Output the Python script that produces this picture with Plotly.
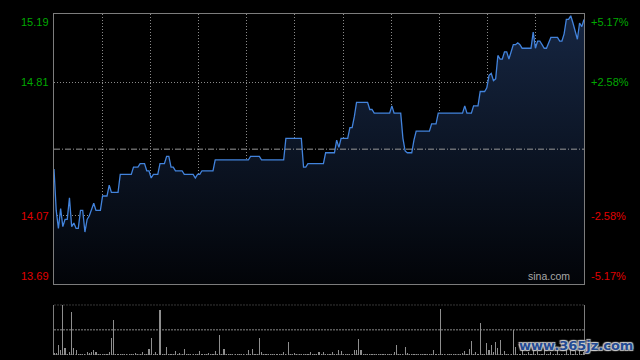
import plotly.graph_objects as go

# ---- data ----
prev_close = 14.44
price_ticks = [15.19, 14.81, 14.07, 13.69]
pct_ticks = ["+5.17%", "+2.58%", "-2.58%", "-5.17%"]

prices = [
    14.33, 14.10, 14.00, 14.11, 14.01, 14.05, 14.05, 14.17, 14.01, 14.03,
    14.00, 14.00, 14.10, 14.10, 13.98, 14.05, 14.07, 14.10, 14.14, 14.10,
    14.10, 14.10, 14.18, 14.18, 14.18, 14.24, 14.20, 14.20, 14.20, 14.20,
    14.30, 14.30, 14.30, 14.30, 14.30, 14.30, 14.34, 14.34, 14.34, 14.36,
    14.36, 14.36, 14.32, 14.32, 14.28, 14.30, 14.30, 14.30, 14.36, 14.36,
    14.36, 14.40, 14.40, 14.34, 14.34, 14.32, 14.32, 14.32, 14.32, 14.30,
    14.30, 14.30, 14.30, 14.30, 14.28, 14.30, 14.30, 14.32, 14.32, 14.32,
    14.32, 14.32, 14.32, 14.38, 14.38, 14.38, 14.38, 14.38, 14.38, 14.38,
    14.38, 14.38, 14.38, 14.38, 14.38, 14.38, 14.38, 14.38, 14.38, 14.40,
    14.40, 14.40, 14.40, 14.40, 14.38, 14.38, 14.38, 14.38, 14.38, 14.38,
    14.38, 14.38, 14.38, 14.38, 14.38, 14.50, 14.50, 14.50, 14.50, 14.50,
    14.50, 14.50, 14.50, 14.34, 14.34, 14.36, 14.36, 14.36, 14.36, 14.36,
    14.36, 14.36, 14.36, 14.42, 14.42, 14.42, 14.42, 14.42, 14.49, 14.45,
    14.50, 14.50, 14.50, 14.50, 14.56, 14.56, 14.62, 14.70, 14.70, 14.70,
    14.70, 14.70, 14.70, 14.66, 14.66, 14.64, 14.64, 14.64, 14.64, 14.64,
    14.64, 14.64, 14.64, 14.68, 14.64, 14.64, 14.64, 14.64, 14.50, 14.43,
    14.42, 14.42, 14.42, 14.49, 14.54, 14.54, 14.54, 14.54, 14.54, 14.54,
    14.54, 14.58, 14.58, 14.58, 14.64, 14.64, 14.64, 14.64, 14.64, 14.64,
    14.64, 14.64, 14.64, 14.64, 14.64, 14.64, 14.68, 14.64, 14.64, 14.64,
    14.68, 14.68, 14.68, 14.76, 14.76, 14.76, 14.78, 14.85, 14.86, 14.82,
    14.83, 14.96, 14.94, 14.94, 14.98, 14.98, 14.94, 14.98, 15.02, 15.02,
    15.03, 15.02, 15.00, 15.00, 15.00, 15.00, 15.00, 15.09, 15.00, 15.04,
    15.04, 15.02, 15.00, 15.00, 15.03, 15.06, 15.06, 15.06, 15.06, 15.04,
    15.04, 15.08, 15.16, 15.16, 15.18, 15.14, 15.10, 15.05, 15.14, 15.12,
    15.16,
]

volumes = [
    3, 4, 19, 9, 100, 13, 2, 5, 85, 13, 9, 2, 2, 1, 2, 5, 3, 5, 9, 5,
    2, 1, 2, 1, 2, 5, 33, 69, 2, 1, 2, 1, 2, 1, 2, 1, 2, 3, 1, 2,
    5, 1, 2, 11, 33, 2, 5, 1, 89, 2, 2, 15, 1, 2, 1, 7, 2, 3, 1, 11,
    2, 1, 2, 1, 2, 2, 7, 1, 2, 1, 3, 1, 2, 7, 2, 39, 2, 11, 1, 2,
    1, 2, 1, 2, 1, 2, 1, 2, 9, 2, 11, 1, 2, 33, 5, 1, 2, 1, 2, 1,
    2, 1, 2, 1, 5, 2, 25, 1, 2, 3, 1, 2, 1, 2, 1, 2, 5, 1, 2, 1,
    5, 1, 5, 2, 1, 2, 5, 1, 2, 9, 7, 1, 2, 1, 2, 1, 9, 9, 31, 9,
    2, 1, 2, 1, 2, 1, 2, 1, 2, 1, 2, 1, 2, 1, 5, 19, 2, 1, 2, 15,
    3, 1, 2, 1, 2, 1, 2, 1, 2, 1, 2, 1, 9, 2, 1, 91, 2, 1, 2, 1,
    2, 1, 2, 1, 2, 3, 7, 2, 11, 27, 2, 5, 2, 63, 2, 1, 23, 9, 19, 5,
    25, 13, 29, 2, 7, 2, 1, 2, 50, 15, 2, 1, 9, 2, 1, 5, 2, 21, 2, 7,
    2, 1, 11, 2, 1, 5, 2, 1, 9, 2, 1, 2, 17, 2, 13, 2, 7, 2, 9, 2,
    5,
]

minutes = list(range(len(prices)))
n_div = 11
x_max = 240
vol_max = 100

# ---- styles ----
GRID = "#8a8a8a"
BORDER = "#7c7c7c"
GREEN = "#00a800"
RED = "#e00000"
LINE = "#4283dc"
FONT = "Liberation Sans, Arial, sans-serif"
DOT = "1px,2px"

main_dom = [0.2073, 1.0]
vol_dom = [0.0, 0.1475]

fig = go.Figure()

fig.add_trace(go.Scatter(
    x=minutes, y=prices, mode="lines",
    line=dict(color=LINE, width=1.3),
    fill="tozeroy",
    fillgradient=dict(type="vertical", start=price_ticks[-1], stop=price_ticks[0],
                      colorscale=[[0, "rgb(2,4,8)"], [1, "rgb(22,38,66)"]]),
    xaxis="x", yaxis="y", hoverinfo="skip",
))

fig.add_trace(go.Bar(
    x=minutes, y=volumes, width=0.5,
    marker=dict(color="#8e8e8e", line=dict(width=0)),
    xaxis="x2", yaxis="y2", hoverinfo="skip",
))

grid_x = [x_max * k / n_div for k in range(1, n_div)]

fig.update_layout(
    width=640, height=360,
    margin=dict(l=54, r=56, t=14, b=5),
    paper_bgcolor="black", plot_bgcolor="black",
    showlegend=False,
    bargap=0,
    xaxis=dict(domain=[0, 1], range=[0, x_max], anchor="y",
               tickmode="array", tickvals=grid_x, showticklabels=False, ticks="",
               showgrid=True, gridcolor=GRID, griddash=DOT, gridwidth=1,
               zeroline=False, showline=True, mirror=True, linecolor=BORDER, linewidth=1),
    yaxis=dict(domain=main_dom, range=[price_ticks[-1], price_ticks[0]], anchor="x",
               tickmode="array", tickvals=[price_ticks[1], price_ticks[2]],
               showticklabels=False, ticks="",
               showgrid=True, gridcolor=GRID, griddash=DOT, gridwidth=1,
               zeroline=False, showline=True, mirror=True, linecolor=BORDER, linewidth=1),
    xaxis2=dict(domain=[0, 1], range=[0, x_max], anchor="y2",
                showticklabels=False, ticks="", showgrid=False, zeroline=False,
                showline=False),
    yaxis2=dict(domain=vol_dom, range=[0, vol_max], anchor="x2",
                showticklabels=False, ticks="", showgrid=False, zeroline=False,
                showline=True, mirror=True, linecolor=BORDER, linewidth=1),
)

shapes = []
# previous close reference line
shapes.append(dict(type="line", xref="x", yref="y", x0=0, x1=x_max, y0=prev_close, y1=prev_close,
                   line=dict(color="#9a9a9a", width=1, dash="6px,2px,1px,2px"), layer="above"))
# volume panel guide lines
for v in [vol_max, vol_max / 2, 0]:
    shapes.append(dict(type="line", xref="x2", yref="y2", x0=0, x1=x_max, y0=v, y1=v,
                       line=dict(color=GRID, width=1, dash="2px,1px"), layer="below"))
fig.update_layout(shapes=shapes)

ann = []
left_cols = [GREEN, GREEN, RED, RED]
anchors = ["top", "middle", "middle", "bottom"]
for val, pct, col, anc in zip(price_ticks, pct_ticks, left_cols, anchors):
    ann.append(dict(x=-0.006, xref="paper", y=val, yref="y", text=f"{val:.2f}",
                    xanchor="right", yanchor=anc, showarrow=False,
                    font=dict(family=FONT, size=11, color=col)))
    ann.append(dict(x=1.01, xref="paper", y=val, yref="y", text=pct,
                    xanchor="left", yanchor=anc, showarrow=False,
                    font=dict(family=FONT, size=11, color=col)))
ann.append(dict(x=0.978, xref="paper", y=price_ticks[-1], yref="y", text="sina.com",
                xanchor="right", yanchor="bottom", showarrow=False,
                font=dict(family=FONT, size=10.5, color="#a8a8a8")))
ann.append(dict(x=0.984, xref="paper", y=0.0, yref="paper", text="<b>www.365jz.com</b>",
                xanchor="center", yanchor="bottom", showarrow=False,
                font=dict(family="DejaVu Sans", size=13, color="#244b94",
                          shadow="1px 1px 1px #ccc, -1px -1px 1px #ccc, 1px -1px 1px #ccc, -1px 1px 1px #ccc")))
fig.update_layout(annotations=ann)

fig.write_html(
    "out.html",
    config={"displayModeBar": False, "staticPlot": True},
    post_script="document.body.style.margin='0';document.body.style.background='black';document.body.style.overflow='hidden';",
)
